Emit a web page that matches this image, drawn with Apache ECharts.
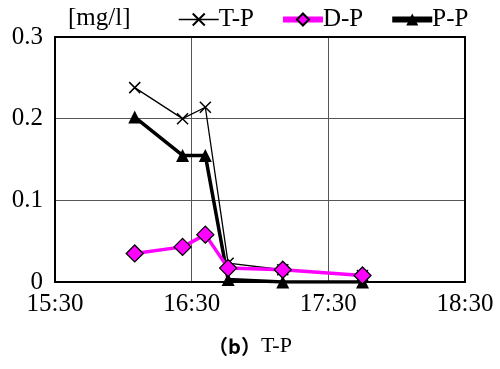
<!DOCTYPE html>
<html>
<head>
<meta charset="utf-8">
<script src="https://cdn.jsdelivr.net/npm/echarts@6/dist/echarts.min.js"></script>
<style>
  html, body { margin: 0; padding: 0; background: #fff; }
  #chart { width: 500px; height: 369px; }
</style>
</head>
<body>
<div id="chart"></div>
<script>
// sample times and concentrations [mg/l]
const times = ['16:05', '16:26', '16:36', '16:46', '17:10', '17:45'];
const tp = [0.238, 0.200, 0.214, 0.023, 0.015, 0.008];
const dp = [0.035, 0.043, 0.058, 0.017, 0.015, 0.008];
const pp = [0.202, 0.155, 0.155, 0.003, 0.000, 0.000];
const xTicks = ['15:30', '16:30', '17:30', '18:30'];

const font = "'Liberation Serif', 'Times New Roman', serif";

// minutes since 15:30
function toMin(t) {
  const p = t.split(':');
  return (+p[0]) * 60 + (+p[1]) - (15 * 60 + 30);
}
function pairs(vals) {
  return times.map((t, i) => [toMin(t), vals[i]]);
}

const crossPath = 'path://M0,0 L10,10 M10,0 L0,10';

const chart = echarts.init(document.getElementById('chart'));

const option = {
  animation: false,
  backgroundColor: '#fff',
  textStyle: { fontFamily: font },
  grid: { left: 55, right: 35, top: 37, bottom: 87 },
  title: [
    {
      text: '[mg/l]',
      left: 63,
      top: 1,
      textStyle: { fontFamily: font, fontSize: 25, fontWeight: 'normal', color: '#000' },
    },
    {
      text: '{b|（b）}{n|T-P}',
      left: 'center',
      top: 330,
      textStyle: {
        fontFamily: font,
        fontWeight: 'normal',
        rich: {
          b: { fontFamily: "'Noto Sans CJK SC'", fontSize: 20, fontWeight: 'bold', color: '#000' },
          n: { fontFamily: font, fontSize: 22, fontWeight: 'normal', color: '#000' },
        },
      },
    },
  ],
  legend: {
    top: 2,
    left: 173,
    itemGap: 26,
    itemWidth: 40,
    itemHeight: 15,
    textStyle: { fontFamily: font, fontSize: 25, color: '#000', padding: [0, 0, 0, -5] },
    data: [
      { name: 'T-P', lineStyle: { width: 1.5 } },
      { name: 'D-P', lineStyle: { width: 6 } },
      { name: 'P-P', lineStyle: { width: 6 } },
    ],
  },
  xAxis: {
    type: 'value',
    min: 0,
    max: 180,
    interval: 60,
    axisLine: { show: true, lineStyle: { color: '#000', width: 2 } },
    axisTick: { show: false },
    axisLabel: {
      fontFamily: font,
      fontSize: 25,
      color: '#000',
      margin: 10,
      formatter: (v) => xTicks[Math.round(v / 60)],
    },
    splitLine: { show: true, lineStyle: { color: '#555', width: 1 } },
  },
  yAxis: {
    type: 'value',
    min: 0,
    max: 0.3,
    interval: 0.1,
    axisLine: { show: true, lineStyle: { color: '#000', width: 2 } },
    axisTick: { show: false },
    axisLabel: {
      fontFamily: font,
      fontSize: 25,
      color: '#000',
      margin: 12,
      formatter: (v) => (v === 0 ? '0' : v.toFixed(1)),
    },
    splitLine: { show: true, lineStyle: { color: '#555', width: 1 } },
  },
  series: [
    {
      name: 'T-P',
      type: 'line',
      data: pairs(tp),
      symbol: crossPath,
      symbolSize: 11,
      itemStyle: { color: '#fff', borderColor: '#000', borderWidth: 1.5 },
      lineStyle: { color: '#000', width: 1.3 },
      z: 2,
    },
    {
      name: 'D-P',
      type: 'line',
      data: pairs(dp),
      symbol: 'diamond',
      symbolSize: 17,
      itemStyle: { color: '#ff00ff', borderColor: '#000', borderWidth: 1.3 },
      lineStyle: { color: '#ff00ff', width: 3.5 },
      z: 4,
    },
    {
      name: 'P-P',
      type: 'line',
      data: pairs(pp),
      symbol: 'triangle',
      symbolSize: 13,
      itemStyle: { color: '#000' },
      lineStyle: { color: '#000', width: 3.5 },
      z: 3,
    },
  ],
};

chart.setOption(option);
// frame around the plot area
chart.setOption({
  graphic: [{
    type: 'rect',
    shape: { x: 55, y: 37, width: 410, height: 245 },
    style: { fill: 'none', stroke: '#000', lineWidth: 2 },
    silent: true,
  }],
});
</script>
</body>
</html>
